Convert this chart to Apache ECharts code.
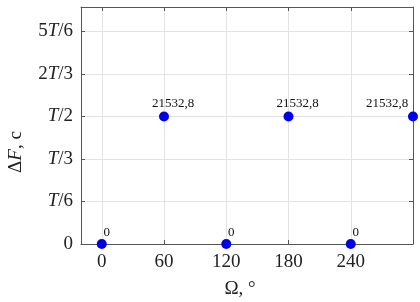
<!DOCTYPE html>
<html>
<head>
<meta charset="utf-8">
<script src="https://cdn.jsdelivr.net/npm/echarts@6/dist/echarts.min.js"></script>
<style>
  html, body { margin: 0; padding: 0; background: #fff; }
  #chart { width: 420px; height: 302px; }
</style>
</head>
<body>
<div id="chart"></div>
<script>
// period T, so T/2 = 21532.8
const T = 43065.6;
const omega = [0, 60, 120, 180, 240, 300];
const deltaF = [0, 21532.8, 0, 21532.8, 0, 21532.8];
const pointLabels = ['0', '21532,8', '0', '21532,8', '0', '21532,8'];
const xTicks = [0, 60, 120, 180, 240, 300];
const xTickLabels = [0, 60, 120, 180, 240];
const yTickText = ['0', '{i|T}/6', '{i|T}/3', '{i|T}/2', '2{i|T}/3', '5{i|T}/6'];
const yTicks = yTickText.map((_, i) => i * T / 6);

const font = 'Liberation Serif';
const chart = echarts.init(document.getElementById('chart'));

const gridLine = { show: true, lineStyle: { color: '#e3e3e3', width: 1 } };
const axisLine = { show: true, onZero: false, lineStyle: { color: '#555', width: 1 } };
const tick = (vals) => ({ show: true, inside: true, length: 4, customValues: vals, lineStyle: { color: '#555' } });

// label offsets: last point sits on the right border, so its label goes left
const labelOffset = (i) => {
  if (pointLabels[i] === '0') return [5, 0];
  if (i === omega.length - 1) return [-26, -1];
  return [9, -1];
};

chart.setOption({
  animation: false,
  grid: { left: 81, right: 7, top: 7, bottom: 58 },
  xAxis: [
    {
      type: 'value', min: -20, max: 300, position: 'bottom',
      axisLine: axisLine,
      axisTick: tick(xTicks),
      splitLine: gridLine,
      axisLabel: {
        customValues: xTickLabels, margin: 9,
        fontFamily: font, fontSize: 19, color: '#222'
      }
    },
    {
      type: 'value', min: -20, max: 300, position: 'top',
      axisLine: axisLine,
      axisTick: tick(xTicks),
      splitLine: { show: false },
      axisLabel: { show: false }
    }
  ],
  yAxis: [
    {
      type: 'value', min: 0, max: 40000, position: 'left',
      axisLine: axisLine,
      axisTick: tick(yTicks),
      splitLine: gridLine,
      axisLabel: {
        customValues: yTicks, margin: 8,
        fontFamily: font, fontSize: 19, color: '#222',
        formatter: (v) => yTickText[Math.round(v / (T / 6))],
        rich: { i: { fontFamily: font, fontSize: 19, fontStyle: 'italic', color: '#222' } }
      }
    },
    {
      type: 'value', min: 0, max: 40000, position: 'right',
      axisLine: axisLine,
      axisTick: tick(yTicks),
      splitLine: { show: false },
      axisLabel: { show: false }
    }
  ],
  graphic: [
    {
      type: 'text', x: 240, y: 289, style: {
        text: 'Ω, °', font: '19px "Liberation Serif"', fill: '#222',
        align: 'center', verticalAlign: 'middle'
      }
    },
    {
      type: 'text', x: 16, y: 152, rotation: Math.PI / 2, style: {
        text: '{a|Δ}{i|F}{a|, c}', fill: '#222', align: 'center', verticalAlign: 'middle',
        rich: {
          a: { fontFamily: font, fontSize: 19, color: '#222' },
          i: { fontFamily: font, fontSize: 19, fontStyle: 'italic', color: '#222' }
        }
      }
    }
  ],
  series: [{
    type: 'scatter',
    clip: false,
    symbolSize: 10,
    itemStyle: { color: '#0000e6', opacity: 1 },
    data: omega.map((x, i) => ({
      value: [x, deltaF[i]],
      label: { offset: labelOffset(i) }
    })),
    label: {
      show: true, position: 'top', distance: 0,
      fontFamily: font, fontSize: 13, color: '#111',
      formatter: (p) => pointLabels[p.dataIndex]
    }
  }]
});
</script>
</body>
</html>
